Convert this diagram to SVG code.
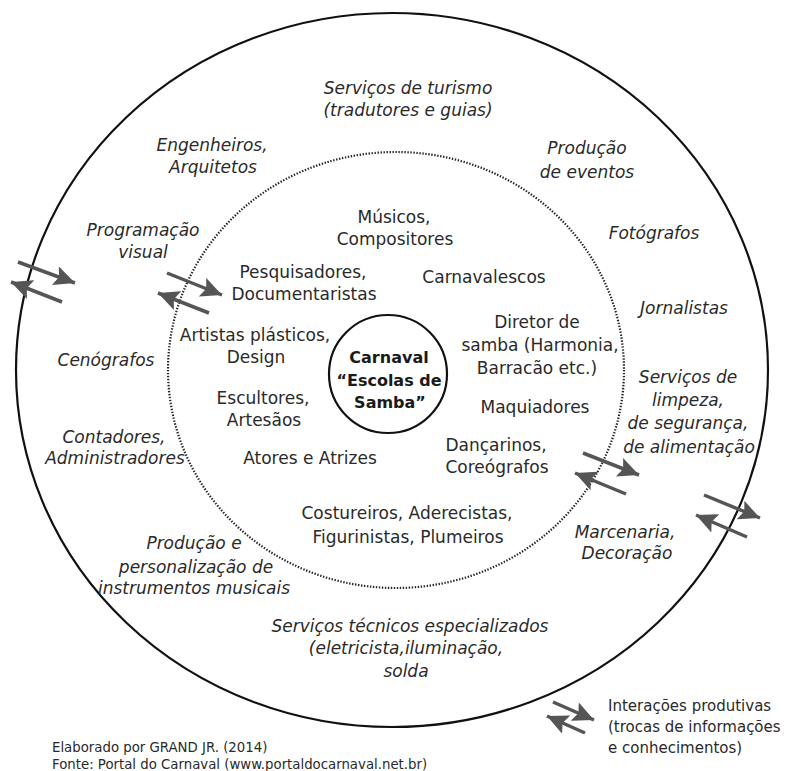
<svg xmlns="http://www.w3.org/2000/svg" width="790" height="771" viewBox="0 0 790 771">
<style>
text{font-family:"DejaVu Sans","Liberation Sans",sans-serif;font-size:17px;fill:#2a2a2a;text-anchor:middle}
.it{font-style:italic}
.ctr{font-weight:bold;font-size:16px;fill:#1a1a1a}
.leg{font-size:15px;text-anchor:start}
.foot{font-size:13.3px;text-anchor:start}
.arr{stroke:#555;stroke-width:3.5;fill:none;marker-end:url(#ah)}
</style>
<defs>
<marker id="ah" markerUnits="userSpaceOnUse" markerWidth="23" markerHeight="20" refX="21" refY="10" orient="auto">
<path d="M0,0 L21,10 L0,20 L4,10 Z" fill="#555"/>
</marker>
</defs>
<rect width="790" height="771" fill="#fff"/>
<g id="rings">
<ellipse id="outer" cx="392" cy="370" rx="376" ry="357" fill="none" stroke="#111" stroke-width="2.2"/>
<ellipse id="inner" cx="396" cy="370" rx="228" ry="218" fill="none" stroke="#222" stroke-width="2.2" stroke-dasharray="1.4 1.6"/>
</g>
<g id="center">
<circle cx="388" cy="374" r="59" fill="none" stroke="#111" stroke-width="2.2"/>
<text class="ctr" x="389" y="363">Carnaval</text>
<text class="ctr" x="389" y="386">“Escolas de</text>
<text class="ctr" x="390" y="408">Samba”</text>
</g>
<g id="inner-nodes">
<g id="musicos"><text x="394" y="223">Músicos,</text><text x="395" y="245">Compositores</text></g>
<g id="pesquisadores"><text x="303" y="278">Pesquisadores,</text><text x="304" y="300">Documentaristas</text></g>
<g id="carnavalescos"><text x="484" y="283">Carnavalescos</text></g>
<g id="artistas"><text x="255" y="341">Artistas plásticos,</text><text x="256" y="363">Design</text></g>
<g id="diretor"><text x="537" y="328">Diretor de</text><text x="540" y="351">samba (Harmonia,</text><text x="537" y="374">Barracão etc.)</text></g>
<g id="escultores"><text x="263" y="404">Escultores,</text><text x="264" y="426">Artesãos</text></g>
<g id="maquiadores"><text x="535" y="413">Maquiadores</text></g>
<g id="atores"><text x="310" y="464">Atores e Atrizes</text></g>
<g id="dancarinos"><text x="496" y="451">Dançarinos,</text><text x="497" y="473">Coreógrafos</text></g>
<g id="costureiros"><text x="407" y="519">Costureiros, Aderecistas,</text><text x="408" y="543">Figurinistas, Plumeiros</text></g>
</g>
<g id="outer-nodes">
<g id="turismo"><text class="it" x="408" y="94">Serviços de turismo</text><text class="it" x="408" y="116">(tradutores e guias)</text></g>
<g id="engenheiros"><text class="it" x="212" y="151">Engenheiros,</text><text class="it" x="213" y="173">Arquitetos</text></g>
<g id="eventos"><text class="it" x="587" y="154">Produção</text><text class="it" x="587" y="178">de eventos</text></g>
<g id="programacao"><text class="it" x="143" y="236">Programação</text><text class="it" x="143" y="258">visual</text></g>
<g id="fotografos"><text class="it" x="654" y="239">Fotógrafos</text></g>
<g id="jornalistas"><text class="it" x="684" y="314">Jornalistas</text></g>
<g id="cenografos"><text class="it" x="106" y="366">Cenógrafos</text></g>
<g id="servicos-limpeza"><text class="it" x="688" y="383">Serviços de</text><text class="it" x="688" y="406">limpeza,</text><text class="it" x="688" y="429">de segurança,</text><text class="it" x="689" y="453">de alimentação</text></g>
<g id="contadores"><text class="it" x="114" y="443">Contadores,</text><text class="it" x="115" y="464">Administradores</text></g>
<g id="marcenaria"><text class="it" x="625" y="538">Marcenaria,</text><text class="it" x="627" y="559">Decoração</text></g>
<g id="instrumentos"><text class="it" x="194" y="549">Produção e</text><text class="it" x="196" y="573">personalização de</text><text class="it" x="194" y="594">instrumentos musicais</text></g>
<g id="tecnicos"><text class="it" x="410" y="632">Serviços técnicos especializados</text><text class="it" x="406" y="654">(eletricista,iluminação,</text><text class="it" x="406" y="677">solda</text></g>
</g>
<g id="connectors">
<path class="arr" d="M18,262 L75,283"/>
<path class="arr" d="M62,302 L11,282"/>
<path class="arr" d="M167,273 L222,295"/>
<path class="arr" d="M209,313 L158,293"/>
<path class="arr" d="M583,453 L639,475"/>
<path class="arr" d="M626,494 L575,473"/>
<path class="arr" d="M704,495 L760,518"/>
<path class="arr" d="M747,537 L696,515"/>
</g>
<g id="legend">
<path class="arr" d="M553,702 L594,720"/>
<path class="arr" d="M585,733 L547,716"/>
<text class="leg" x="608" y="711">Interações produtivas</text>
<text class="leg" x="608" y="732">(trocas de informações</text>
<text class="leg" x="608" y="753">e conhecimentos)</text>
</g>
<g id="footer">
<text class="foot" x="52" y="752">Elaborado por GRAND JR. (2014)</text>
<text class="foot" x="52" y="769">Fonte: Portal do Carnaval (www.portaldocarnaval.net.br)</text>
</g>
</svg>
